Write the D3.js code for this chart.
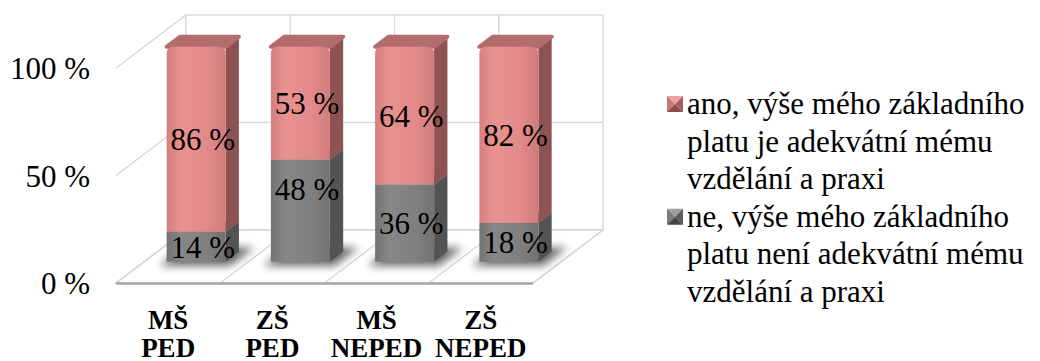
<!DOCTYPE html>
<html>
<head>
<meta charset="utf-8">
<script src="https://cdn.jsdelivr.net/npm/d3@7"></script>
<style>
  body { margin: 0; background: #fff; }
  svg { display: block; }
</style>
</head>
<body>
<div id="chart"></div>
<script>
// data
const categories = ["MŠ PED", "ZŠ PED", "MŠ NEPED", "ZŠ NEPED"];
const anoValues = [86, 53, 64, 82];
const neValues = [14, 48, 36, 18];
const seriesKeys = ["ne", "ano"]; // stacked bottom -> top
const legendLines = {
  ano: ["ano, výše mého základního", "platu je adekvátní mému", "vzdělání a praxi"],
  ne: ["ne, výše mého základního", "platu není adekvátní mému", "vzdělání a praxi"]
};
const yTicks = [0, 0.5, 1];

const width = 1040, height = 361;
const serif = "'Liberation Serif', 'Times New Roman', 'DejaVu Serif', serif";
const depth = { dx: 70, dy: -53 };
const front = { left: 116, right: 533, bottom: 283, top: 68 };
const zFront = 0.40, zBack = 0.59, barFrac = 0.566;

const colors = {
  ano: { front: ["#d67f80", "#e8928f", "#e28a8a", "#d27b7c"], top: "#b36c6c", side: "#8d5353", legend: ["#e9a3a3", "#c97676", "#a65d5d", "#8a4c4c"] },
  ne: { front: ["#737373", "#878787", "#7f7f7f", "#727272"], top: "#696969", side: "#535353", legend: ["#a0a0a0", "#7a7a7a", "#5a5a5a", "#444444"] }
};

const svg = d3.select("#chart").append("svg")
  .attr("width", width)
  .attr("height", height)
  .attr("font-family", serif)
  .style("font-family", serif);

const defs = svg.append("defs");
seriesKeys.forEach(k => {
  const g = defs.append("linearGradient").attr("id", "grad-" + k)
    .attr("x1", 0).attr("x2", 1).attr("y1", 0).attr("y2", 0);
  [0, 0.25, 0.7, 1].forEach((o, i) => g.append("stop").attr("offset", o).attr("stop-color", colors[k].front[i]));
});
defs.append("filter").attr("id", "blur")
  .attr("x", "-50%").attr("y", "-50%").attr("width", "200%").attr("height", "200%")
  .append("feGaussianBlur").attr("stdDeviation", 4);

const x = d3.scaleBand().domain(categories).range([front.left, front.right]);
const y = d3.scaleLinear().domain([0, 1]).range([front.bottom, front.top]);

// project a front-plane point back by depth fraction z
function P(px, py, z) { return [px + depth.dx * z, py + depth.dy * z]; }
const poly = pts => "M" + pts.map(p => p.join(",")).join("L") + "Z";

const rows = categories.map((c, i) => ({ cat: c, ano: anoValues[i], ne: neValues[i] }));
const stacked = d3.stack().keys(seriesKeys).offset(d3.stackOffsetExpand)(rows);

// walls and floor
const grid = svg.append("g").attr("fill", "none").attr("stroke", "#d9d9d9").attr("stroke-width", 1.5);
grid.append("path").attr("fill", "#fff").attr("d", poly([
  P(front.left, y(0), 0), P(front.right, y(0), 0), P(front.right, y(0), 1), P(front.left, y(0), 1)
]));
yTicks.forEach(t => {
  grid.append("path").attr("d", poly([P(front.left, y(t), 0), P(front.left, y(t), 1), P(front.right, y(t), 1)]).replace("Z", ""));
});
const bounds = categories.map(c => x(c)).concat([front.right]);
bounds.forEach(bx => {
  grid.append("path").attr("d", poly([P(bx, y(0), 0), P(bx, y(0), 1), P(bx, y(1), 1)]).replace("Z", ""));
});
svg.append("line")
  .attr("x1", front.left).attr("x2", front.right)
  .attr("y1", y(0) + 0.5).attr("y2", y(0) + 0.5)
  .attr("stroke", "#a6a6a6").attr("stroke-width", 2.5);

// bar geometry
function barX(c) {
  const bw = x.bandwidth();
  const x0 = x(c) + bw * (1 - barFrac) / 2;
  return [x0, x0 + bw * barFrac];
}

// shadows under bars
svg.append("g").selectAll("path").data(categories).join("path")
  .attr("filter", "url(#blur)")
  .attr("fill", "#000").attr("opacity", 0.6)
  .attr("d", c => {
    const [x0, x1] = barX(c);
    return poly([P(x0 - 6, y(0) + 3, zFront - 0.02), P(x1 + 6, y(0) + 3, zFront - 0.02),
      P(x1 + 10, y(0), zBack + 0.08), P(x0 - 2, y(0), zBack + 0.08)]);
  });

const bars = svg.append("g");
rows.forEach((row, i) => {
  const [x0, x1] = barX(row.cat);
  stacked.forEach((s, si) => {
    const k = s.key;
    const [v0, v1] = s[i];
    const isTop = si === stacked.length - 1;
    const g = bars.append("g");
    g.append("path").attr("fill", colors[k].side)
      .attr("d", poly([P(x1, y(v0), zFront), P(x1, y(v0), zBack), P(x1, y(v1), zBack), P(x1, y(v1), zFront)]));
    g.append("path").attr("fill", colors[k].top)
      .attr("stroke", colors[k].top).attr("stroke-linejoin", "round").attr("stroke-width", isTop ? 4 : 0)
      .attr("d", poly([P(x0, y(v1), zFront), P(x1, y(v1), zFront), P(x1, y(v1), zBack), P(x0, y(v1), zBack)]));
    const [fx0, fy1] = P(x0, y(v1), zFront);
    const [fx1, fy0] = P(x1, y(v0), zFront);
    const r = isTop ? 7 : 0;
    g.append("path").attr("fill", `url(#grad-${k})`)
      .attr("d", `M${fx0},${fy0}L${fx0},${fy1 + r}Q${fx0},${fy1} ${fx0 + r},${fy1}L${fx1 - r},${fy1}Q${fx1},${fy1} ${fx1},${fy1 + r}L${fx1},${fy0}Z`);
  });
});

// value labels (the 48 % label sits higher in the original)
const labelNudge = { "ne|ZŠ PED": -22 };
const labels = svg.append("g").attr("font-size", "31px").attr("fill", "#000").attr("text-anchor", "middle");
rows.forEach((row, i) => {
  const [x0, x1] = barX(row.cat);
  stacked.forEach(s => {
    const [v0, v1] = s[i];
    const [lx, ly] = P((x0 + x1) / 2 + (depth.dx * (zBack - zFront)) / 2, y((v0 + v1) / 2), zFront);
    labels.append("text")
      .attr("x", lx)
      .attr("y", ly + 11 + (labelNudge[s.key + "|" + row.cat] || 0))
      .text(row[s.key] + " %");
  });
});

// y axis labels
svg.append("g").attr("font-size", "31px").attr("text-anchor", "end")
  .selectAll("text").data(yTicks).join("text")
  .attr("x", 90).attr("y", d => y(d) + 11)
  .text(d => d3.format(".0%")(d).replace("%", " %"));

// category labels
const cats = svg.append("g").attr("font-size", "27px").attr("font-weight", "bold").attr("text-anchor", "middle");
categories.forEach(c => {
  const t = cats.append("text").attr("x", x(c) + x.bandwidth() / 2).attr("y", 329);
  c.split(" ").forEach((w, j) => t.append("tspan").attr("x", x(c) + x.bandwidth() / 2).attr("dy", j ? 28 : 0).text(w));
});

// legend
const lineH = 37.6;
const legend = svg.append("g").attr("font-size", "31px");
["ano", "ne"].forEach((k, ki) => {
  const base = 114 + ki * 3 * lineH;
  const mx = 667, my = base - 18, ms = 16, m = ms / 2;
  const cx = mx + m, cy = my + m;
  const tri = [
    [[mx, my], [mx + ms, my], [cx, cy]],
    [[mx, my], [mx, my + ms], [cx, cy]],
    [[mx + ms, my], [mx + ms, my + ms], [cx, cy]],
    [[mx, my + ms], [mx + ms, my + ms], [cx, cy]]
  ];
  tri.forEach((t, ti) => legend.append("path").attr("fill", colors[k].legend[ti]).attr("d", poly(t)));
  legendLines[k].forEach((line, li) => {
    legend.append("text").attr("x", 687).attr("y", base + li * lineH).text(line);
  });
});
</script>
</body>
</html>
